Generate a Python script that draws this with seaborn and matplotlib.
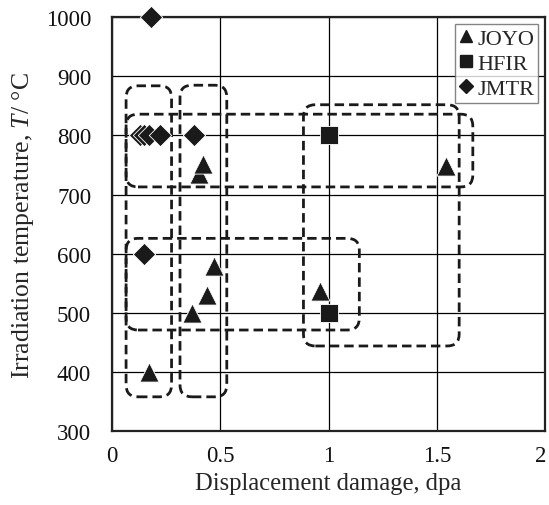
import matplotlib
matplotlib.use("Agg")
import matplotlib.pyplot as plt
import matplotlib.transforms as mtransforms
from matplotlib.patches import FancyBboxPatch
from matplotlib.lines import Line2D
import seaborn as sns
import pandas as pd

# data
joyo_dpa = [0.17, 0.37, 0.44, 0.47, 0.40, 0.42, 0.96, 1.54]
joyo_temp = [400, 500, 530, 580, 735, 752, 537, 748]
hfir_dpa = [1.0, 1.0]
hfir_temp = [800, 500]
jmtr_dpa = [0.18, 0.13, 0.15, 0.17, 0.22, 0.38, 0.15]
jmtr_temp = [1000, 800, 800, 800, 800, 800, 600]

# dashed group boxes: (x0, y0, x1, y1) in data units
groups_x0 = [0.065, 0.314, 0.065, 0.065, 0.884]
groups_y0 = [358, 358, 713, 471, 444]
groups_x1 = [0.275, 0.530, 1.666, 1.142, 1.603]
groups_y1 = [884, 885, 836, 626, 852]

x_ticks = [0, 0.5, 1, 1.5, 2]
x_ticklabels = ["0", "0.5", "1", "1.5", "2"]
y_ticks = [300, 400, 500, 600, 700, 800, 900, 1000]

sns.set_theme(style="white")
plt.rcParams["font.family"] = ["Liberation Serif", "DejaVu Serif"]
plt.rcParams["mathtext.fontset"] = "custom"
plt.rcParams["mathtext.it"] = "Liberation Serif:italic"
plt.rcParams["mathtext.rm"] = "Liberation Serif"

df = pd.concat([
    pd.DataFrame({"dpa": joyo_dpa, "temp": joyo_temp, "reactor": "JOYO"}),
    pd.DataFrame({"dpa": hfir_dpa, "temp": hfir_temp, "reactor": "HFIR"}),
    pd.DataFrame({"dpa": jmtr_dpa, "temp": jmtr_temp, "reactor": "JMTR"}),
], ignore_index=True)

fig = plt.figure(figsize=(5.49, 5.06), dpi=100)
ax = fig.add_axes([0.204, 0.146, 0.789, 0.818])

ax.set_xlim(0, 2)
ax.set_ylim(300, 1000)
ax.set_xticks(x_ticks)
ax.set_xticklabels(x_ticklabels)
ax.set_yticks(y_ticks)
ax.grid(True, color="black", lw=0.9)
ax.set_axisbelow(True)
for sp in ax.spines.values():
    sp.set_color("#222222")
    sp.set_linewidth(1.6)
ax.tick_params(length=0, labelsize=16.5, colors="#111111")
ax.tick_params(axis="y", pad=15)
ax.tick_params(axis="x", pad=10)

# keep the last x label inside the canvas
last = ax.get_xticklabels()[-1]
last.set_transform(last.get_transform() +
                   mtransforms.ScaledTranslation(-4 / 100, 0, fig.dpi_scale_trans))

# rounded dashed boxes
px_per_x = 433 / 2.0
px_per_y = 414 / 700.0
aspect = px_per_x / px_per_y
for x0, y0, x1, y1 in zip(groups_x0, groups_y0, groups_x1, groups_y1):
    box = FancyBboxPatch((x0, y0), x1 - x0, y1 - y0,
                         boxstyle="round,pad=0,rounding_size=0.055",
                         mutation_aspect=aspect,
                         fill=False, edgecolor="#1a1a1a", lw=2.0,
                         linestyle=(0, (3.4, 1.8)), zorder=3)
    ax.add_patch(box)

markers = {"JOYO": "^", "HFIR": "s", "JMTR": "D"}
sizes = {"JOYO": 190, "HFIR": 180, "JMTR": 130}
for name, sub in df.groupby("reactor", sort=False):
    sns.scatterplot(data=sub, x="dpa", y="temp", marker=markers[name],
                    s=sizes[name], color="#1a1a1a", edgecolor="white",
                    linewidth=0.6, ax=ax, zorder=4, clip_on=False, legend=False)

ax.set_xlabel("Displacement damage, dpa", fontsize=17.7, labelpad=4)
ax.set_ylabel("Irradiation temperature, $\\it{T}$/ °C", fontsize=18.5, labelpad=7)

handles = [
    Line2D([], [], marker="^", color="#1a1a1a", ls="", markersize=9),
    Line2D([], [], marker="s", color="#1a1a1a", ls="", markersize=9),
    Line2D([], [], marker="D", color="#1a1a1a", ls="", markersize=7),
]
leg = ax.legend(handles, ["JOYO", "HFIR", "JMTR"], loc="upper right",
                fontsize=16, frameon=True, fancybox=False,
                handlelength=0.6, handletextpad=0.2, borderpad=0.2,
                labelspacing=0.2, borderaxespad=0.3)
leg.get_frame().set_edgecolor("#666666")
leg.get_frame().set_linewidth(1.0)
leg.set_zorder(5)

fig.savefig("out.png", dpi=100)
